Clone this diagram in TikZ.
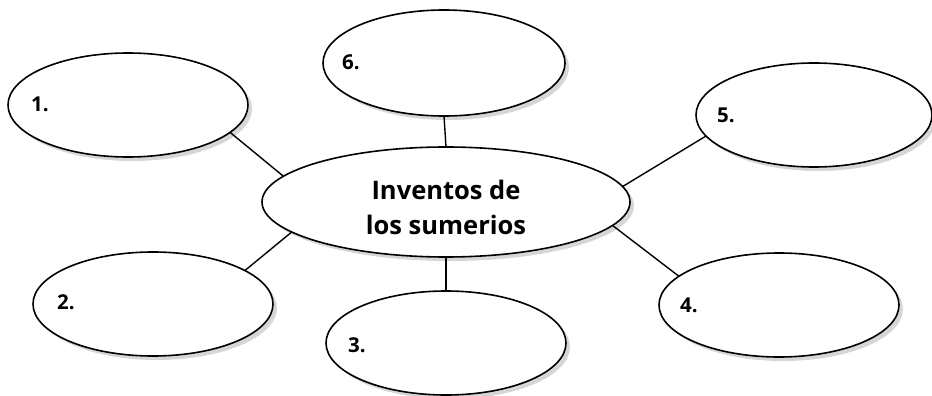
\documentclass[tikz,border=0pt]{standalone}
\usepackage{fontspec}
\setmainfont{Open Sans}
\usepackage{tikz}
\usetikzlibrary{shapes.geometric,shadows}

\begin{document}
\begin{tikzpicture}[x=1pt,y=-1pt,
	blob/.style={ellipse,draw,fill=white,line width=1.6pt,inner sep=0pt,outer sep=0pt,
		minimum width=240pt,minimum height=104pt,
		drop shadow={shadow xshift=4pt,shadow yshift=-4pt,fill=black!16,opacity=1}},
	num/.style={font=\fontsize{20.5}{22}\selectfont\bfseries,inner sep=0pt},
	link/.style={line width=1.4pt}]
	\useasboundingbox (0,0) rectangle (932,396);
	\node[blob,minimum width=368pt,minimum height=110pt] (c) at (446,202) {};
	\node[align=center,font=\fontsize{25.5}{35}\selectfont\bfseries] (ct) at (446,207) {Inventos de\\los sumerios};
	\node[blob]         (n1) at (128,105) {};
	\node[blob]         (n2) at (153,304) {};
	\node[blob]         (n3) at (446,343) {};
	\node[blob]         (n4) at (779,305) {};
	\node[blob,minimum width=236pt] (n5) at (814,115) {};
	\node[blob,minimum width=242pt,minimum height=106pt] (n6) at (444,63) {};
	\node[num] (l1) at (40,104) {1.};
	\node[num] (l2) at (66,302) {2.};
	\node[num] (l3) at (357,345) {3.};
	\node[num] (l4) at (689,305) {4.};
	\node[num] (l5) at (726,115) {5.};
	\node[num] (l6) at (351,62) {6.};
	
	\path[link]
	(n1.-15.6) edge (c.171.8)
	(n2.20.4) edge (c.-169.3)
	(n3.north) edge (c.south)
	(n4.164.6) edge (c.-8.2)
	(n5.-169) edge (c.5.5)
	(n6.south) edge (c.north);
\end{tikzpicture}
\end{document}
